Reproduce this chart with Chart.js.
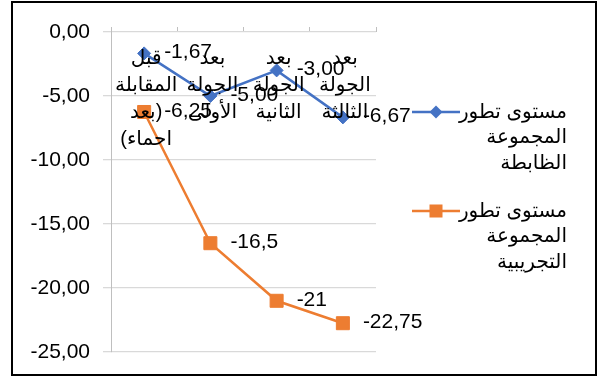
<!DOCTYPE html>
<html>
<head>
<meta charset="utf-8">
<script src="https://cdn.jsdelivr.net/npm/chart.js@4.4.0/dist/chart.umd.min.js"></script>
<style>
  html, body { margin: 0; padding: 0; background: #fff; }
</style>
</head>
<body>
<canvas id="tideChart" width="598" height="378"></canvas>
<script>
// categories (each entry = the wrapped lines of one label)
const categories = [
  ['قبل', 'المقابلة', '(بعد', 'احماء)'],
  ['بعد', 'الجولة', 'الأولى'],
  ['بعد', 'الجولة', 'الثانية'],
  ['بعد', 'الجولة', 'الثالثة']
];
const controlLegend = ['مستوى تطور', 'المجموعة', 'الظابطة'];
const experimentalLegend = ['مستوى تطور', 'المجموعة', 'التجريبية'];
const controlValues = [-1.67, -5.00, -3.00, -6.67];
const experimentalValues = [-6.25, -16.5, -21, -22.75];
const yTicks = [0, -5, -10, -15, -20, -25];

const BLUE = '#4472C4';
const ORANGE = '#ED7D31';
const FONT = '"Liberation Sans", "DejaVu Sans", sans-serif';
const NUM_SIZE = 21;
const TEXT_SIZE = 20;

// how each series prints its point labels
const labelFormats = [
  v => v.toFixed(2).replace('.', ','),
  v => String(v).replace('.', ',')
];
const legendLines = [controlLegend, experimentalLegend];

const extras = {
  id: 'extras',
  afterDatasetsDraw(chart) {
    const ctx = chart.ctx;
    const xs = chart.scales.x;
    const top = chart.chartArea.top;
    ctx.save();
    ctx.fillStyle = '#000';
    ctx.textBaseline = 'middle';

    // category labels, sitting under the axis at 0
    ctx.font = TEXT_SIZE + 'px ' + FONT;
    ctx.textAlign = 'center';
    ctx.direction = 'rtl';
    categories.forEach((lines, i) => {
      const cx = xs.getPixelForValue(i) + 2;
      lines.forEach((t, j) => ctx.fillText(t, cx, top + 26 + j * 27));
    });

    // point labels, to the right of each marker
    ctx.font = NUM_SIZE + 'px ' + FONT;
    ctx.direction = 'ltr';
    ctx.textAlign = 'left';
    chart.data.datasets.forEach((ds, di) => {
      chart.getDatasetMeta(di).data.forEach((pt, i) => {
        ctx.fillText(labelFormats[di](ds.data[i]), pt.x + 20, pt.y - 1);
      });
    });

    // legend on the right
    ctx.font = TEXT_SIZE + 'px ' + FONT;
    const legendY = [112, 211];
    chart.data.datasets.forEach((ds, di) => {
      const y = legendY[di];
      ctx.strokeStyle = ds.borderColor;
      ctx.fillStyle = ds.borderColor;
      ctx.lineWidth = 2.5;
      ctx.beginPath();
      ctx.moveTo(412, y);
      ctx.lineTo(460, y);
      ctx.stroke();
      if (ds.pointStyle === 'rectRot') {
        ctx.beginPath();
        ctx.moveTo(436 - 6.5, y);
        ctx.lineTo(436, y - 6.5);
        ctx.lineTo(436 + 6.5, y);
        ctx.lineTo(436, y + 6.5);
        ctx.closePath();
        ctx.fill();
      } else {
        ctx.fillRect(436 - 6.5, y - 6.5, 13, 13);
      }
      ctx.fillStyle = '#000';
      ctx.textAlign = 'right';
      ctx.direction = 'rtl';
      legendLines[di].forEach((t, j) => ctx.fillText(t, 567, y + j * 25.5));
      ctx.direction = 'ltr';
    });
    ctx.restore();
  },
  afterDraw(chart) {
    const ctx = chart.ctx;
    ctx.save();
    ctx.strokeStyle = '#000';
    ctx.lineWidth = 2;
    ctx.strokeRect(12, 2, 584, 373);
    ctx.restore();
  }
};

new Chart(document.getElementById('tideChart'), {
  type: 'line',
  plugins: [extras],
  data: {
    labels: categories.map(c => c.join(' ')),
    datasets: [
      {
        label: controlLegend.join(' '),
        data: controlValues,
        borderColor: BLUE,
        backgroundColor: BLUE,
        borderWidth: 2.5,
        pointStyle: 'rectRot',
        pointRadius: 6.5,
        pointBorderWidth: 1
      },
      {
        label: experimentalLegend.join(' '),
        data: experimentalValues,
        borderColor: ORANGE,
        backgroundColor: ORANGE,
        borderWidth: 2.5,
        pointStyle: 'rect',
        pointRadius: 9.2,
        pointBorderWidth: 1
      }
    ]
  },
  options: {
    responsive: false,
    animation: false,
    devicePixelRatio: 1,
    layout: { padding: { left: 0, top: 27, right: 222, bottom: 26 } },
    plugins: {
      legend: { display: false },
      tooltip: { enabled: false }
    },
    scales: {
      x: {
        position: 'top',
        offset: true,
        grid: { drawOnChartArea: false, drawTicks: true, tickLength: 5, color: '#bfbfbf', offset: true },
        border: { display: false },
        ticks: { display: false },
        afterFit(s) { s.height = 5; }
      },
      y: {
        min: Math.min(...yTicks),
        max: Math.max(...yTicks),
        ticks: {
          stepSize: 5,
          padding: 13,
          color: '#000',
          font: { family: FONT, size: NUM_SIZE },
          callback: v => v.toFixed(2).replace('.', ',')
        },
        grid: { color: '#d9d9d9', lineWidth: 1.3, tickLength: 8 },
        border: { color: '#bfbfbf' },
        afterFit(s) { s.width = 111; }
      }
    }
  }
});
</script>
</body>
</html>
